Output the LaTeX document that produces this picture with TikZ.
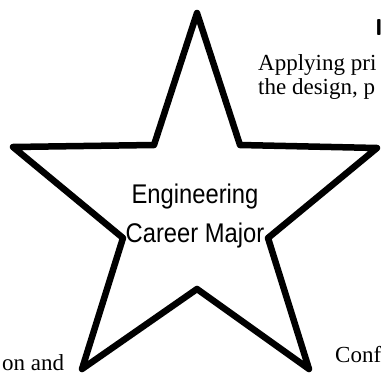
\documentclass[tikz,border=0pt]{standalone}
\usepackage{fontspec}
\setmainfont{Liberation Serif}
\newfontfamily\condsans[FakeStretch=0.88]{Liberation Sans}
\begin{document}
\begin{tikzpicture}[x=1pt,y=-1pt,
  starline/.style={line width=6.5pt,line join=round,draw=black},
  sidetext/.style={inner sep=0pt,font=\fontsize{23}{28}\selectfont},
  centertext/.style={inner sep=0pt,font=\condsans\fontsize{27}{32}\selectfont}]
\useasboundingbox (0,0) rectangle (381,375);
\draw[starline] (13,147) -- (154,145) -- (197,13) -- (240,145) -- (377,148)
  -- (268,238) -- (309,369) -- (197,289) -- (82,369) -- (123,238) -- cycle;
\node[centertext,anchor=base] (l1) at (195,203) {Engineering};
\node[centertext,anchor=base] (l2) at (195,242) {Career Major};
\node[sidetext,anchor=base west] (h) at (375,35) {\textsf{\textbf{I}}};
\node[sidetext,anchor=base west] (t1) at (258,70) {Applying pri};
\node[sidetext,anchor=base west] (t2) at (258,94) {the design, p};
\node[sidetext,anchor=base west] (t3) at (2,370) {on and};
\node[sidetext,anchor=base west] (t4) at (335,362) {Conf};
\end{tikzpicture}
\end{document}
